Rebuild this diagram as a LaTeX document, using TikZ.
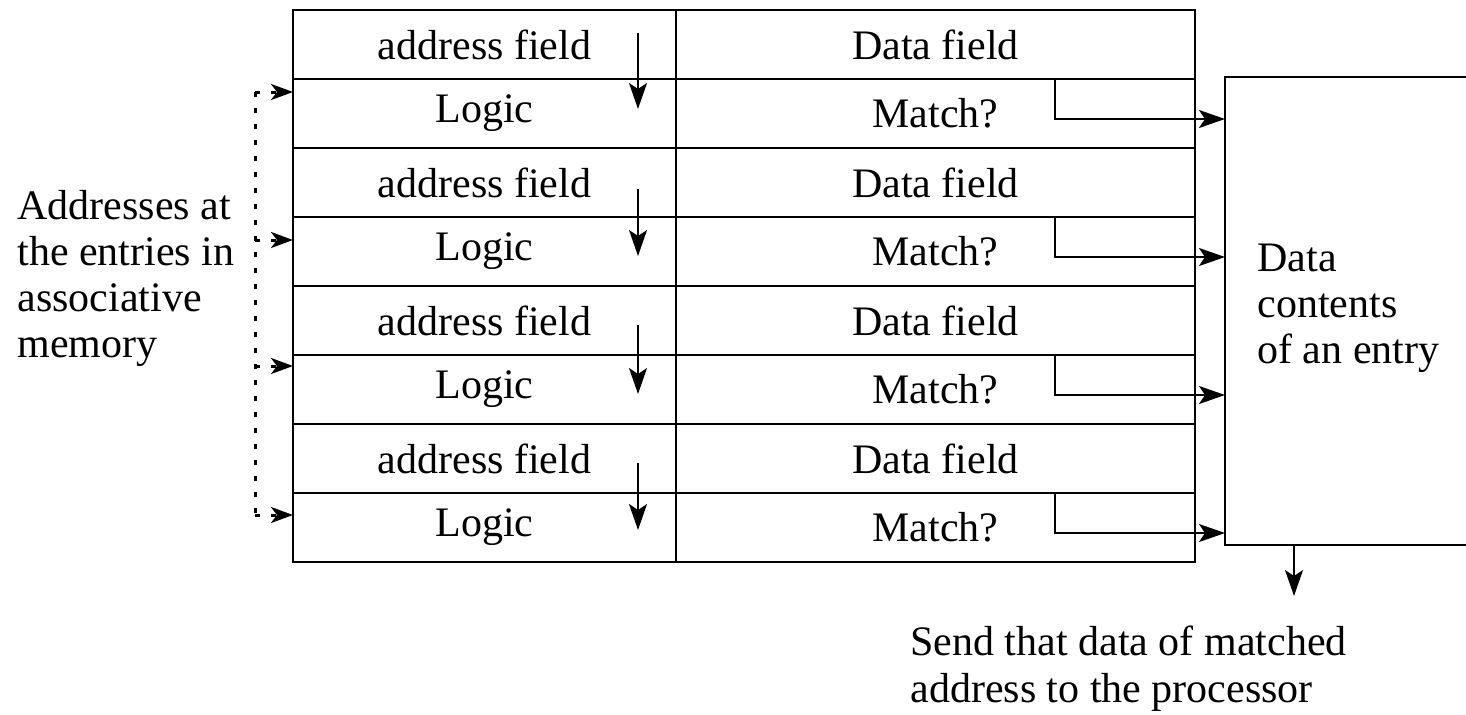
\documentclass[tikz,border=0pt]{standalone}
\usepackage{fontspec}
\setmainfont{Liberation Serif}
\usetikzlibrary{positioning,calc,arrows.meta}

\tikzset{
	txt/.style={font=\fontsize{21}{23}\selectfont,inner sep=0pt},
	cell/.style={draw,line width=1pt,inner sep=0pt,outer sep=0pt,minimum height=34.5pt},
	addrcol/.style={cell,minimum width=191.5pt},
	datacol/.style={cell,minimum width=259.5pt},
	flow/.style={line width=0.9pt,-{Stealth[length=13pt,width=9pt,inset=3pt]}},
	dotline/.style={line width=1.5pt,dash pattern=on 2.5pt off 5.5pt},
	dottip/.style={-{Stealth[length=11pt,width=8pt,inset=3pt]}}
}

\begin{document}
\begin{tikzpicture}[x=0.5pt,y=-0.5pt,every node/.style={txt}]
	\useasboundingbox (0,0) rectangle (1466,714);

	% the four entries of the memory
	\foreach \i in {1,...,4}{
		\node[addrcol,anchor=north west] (addr\i) at (293,{10+138*(\i-1)}) {address field};
		\node[datacol,right=0pt of addr\i] (data\i) {Data field};
		\node[addrcol,below=0pt of addr\i] (logic\i) {Logic};
		\node[datacol,below=0pt of data\i] (match\i) {Match?};
	}

	% output register
	\node[draw,line width=1pt,outer sep=0pt,minimum width=130pt,minimum height=234pt,anchor=north west] (entry) at (1225,77) {};
	\node[anchor=west,align=left] (entrytext) at (1257,308) {Data\\contents\\of an entry};

	% address field to logic
	\foreach \i/\s/\e in {1/46/76,2/28/67,3/30/69,4/30/67}
		\draw[flow] ($(addr\i.south east)+(-38,-\s)$) -- ++(0,\e);

	% match lines to the register
	\foreach \i in {1,...,4}{
		\coordinate (m\i) at ($(match\i.north east)+(-140,40)$);
		\draw[flow] (m\i |- match\i.north) -- (m\i) -- (m\i -| entry.west);
	}

	% incoming addresses
	\foreach \i/\o in {1/13,2/23,3/11,4/22}
		\coordinate (d\i) at ($(logic\i.north west)+(-38,\o)$);
	\draw[dotline] (d1) -- (d4);
	\foreach \i in {1,...,4}
		\draw[dotline,dottip] (d\i) -- (d\i -| logic\i.west);
	\node[anchor=west,align=left] (addrtext) at (17,278) {Addresses at\\the entries in\\associative\\memory};

	% to the processor
	\coordinate (out) at ($(entry.south west)+(69,0)$);
	\draw[flow] (out) -- ++(0,51);
	\node[anchor=north west,align=left,font=\fontsize{21}{23.5}\selectfont] (sendtext) at (910,626) {Send that data of matched\\address to the processor};
\end{tikzpicture}
\end{document}
